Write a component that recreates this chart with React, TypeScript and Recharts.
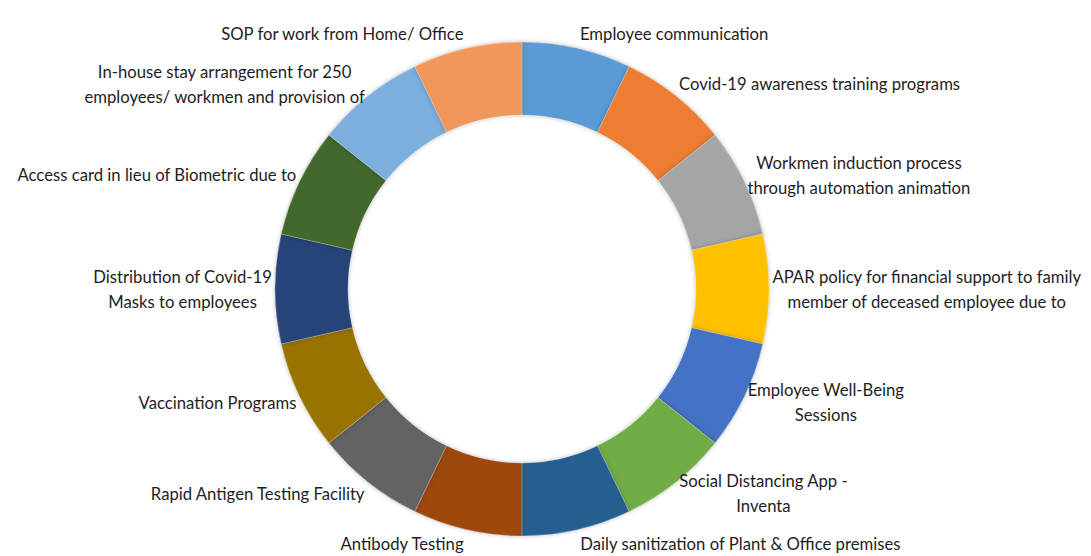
import { PieChart, Pie, Cell } from 'recharts'

const CATEGORIES = [
  'Employee communication',
  'Covid-19 awareness training programs',
  'Workmen induction process through automation animation',
  'APAR policy for financial support to family member of deceased employee due to',
  'Employee Well-Being Sessions',
  'Social Distancing App - Inventa',
  'Daily sanitization of Plant & Office premises',
  'Antibody Testing',
  'Rapid Antigen Testing Facility',
  'Vaccination Programs',
  'Distribution of Covid-19 Masks to employees',
  'Access card in lieu of Biometric due to',
  'In-house stay arrangement for 250 employees/ workmen and provision of',
  'SOP for work from Home/ Office',
]

// how each label wraps on the chart
const LABEL_LINES = [
  ['Employee communication'],
  ['Covid-19 awareness training programs'],
  ['Workmen induction process', 'through automation animation'],
  ['APAR policy for financial support to family', 'member of deceased employee due to'],
  ['Employee Well-Being', 'Sessions'],
  ['Social Distancing App -', 'Inventa'],
  ['Daily sanitization of Plant & Office premises'],
  ['Antibody Testing'],
  ['Rapid Antigen Testing Facility'],
  ['Vaccination Programs'],
  ['Distribution of Covid-19', 'Masks to employees'],
  ['Access card in lieu of Biometric due to'],
  ['In-house stay arrangement for 250', 'employees/ workmen and provision of'],
  ['SOP for work from Home/ Office'],
]

const VALUES = [1, 1, 1, 1, 1, 1, 1, 1, 1, 1, 1, 1, 1, 1]

const COLORS = [
  '#5B9BD5', '#ED7D31', '#A5A5A5', '#FFC000', '#4472C4', '#70AD47', '#255E91',
  '#9E480E', '#636363', '#997300', '#264478', '#43682B', '#7CAFDD', '#F1975A',
]

const FONT_SIZE = 16.7
const FONT_FAMILY = 'Lato, "Open Sans", sans-serif'
const LINE_H = 25
const RAD = Math.PI / 180

const data = CATEGORIES.map((name, i) => ({ name, value: VALUES[i] }))

let ctx: CanvasRenderingContext2D | null = null
function measure(text: string) {
  if (!ctx) ctx = document.createElement('canvas').getContext('2d')
  if (!ctx) return text.length * 8.3
  ctx.font = `${FONT_SIZE}px ${FONT_FAMILY}`
  return ctx.measureText(text).width
}

const renderLabel = (props: any) => {
  const { cx, cy, midAngle, outerRadius, index } = props
  const lines = LABEL_LINES[index]
  const dx = Math.cos(-midAngle * RAD)
  const dy = Math.sin(-midAngle * RAD)
  const px = cx + outerRadius * dx
  const py = cy + outerRadius * dy
  const w = Math.max(...lines.map(measure))
  const x = px + Math.sign(dx) * (w / 2 + 3)
  const y = py + dy * 15
  return (
    <text x={x} y={y} textAnchor="middle" fill="#1e1e24" fontSize={FONT_SIZE} fontFamily={FONT_FAMILY}>
      {lines.map((l, i) => (
        <tspan key={i} x={x} y={y + (i - (lines.length - 1) / 2) * LINE_H} dominantBaseline="central">
          {l}
        </tspan>
      ))}
    </text>
  )
}

export default function App() {
  return (
    <div style={{ position: 'absolute', left: 0, top: 0, background: '#fff' }}>
      <PieChart width={1091} height={556} margin={{ top: 0, right: 0, bottom: 0, left: 0 }}>
        <Pie
          data={data}
          dataKey="value"
          nameKey="name"
          cx={522}
          cy={289}
          innerRadius={174}
          outerRadius={247}
          startAngle={90}
          endAngle={-270}
          labelLine={false}
          label={renderLabel}
          stroke="rgba(255,255,255,0.25)"
          strokeWidth={1}
          isAnimationActive={false}
        >
          {data.map((d, i) => (
            <Cell key={d.name} fill={COLORS[i]} style={{ filter: 'drop-shadow(0px 0px 2px rgba(0,0,0,0.25))' }} />
          ))}
        </Pie>
      </PieChart>
    </div>
  )
}
